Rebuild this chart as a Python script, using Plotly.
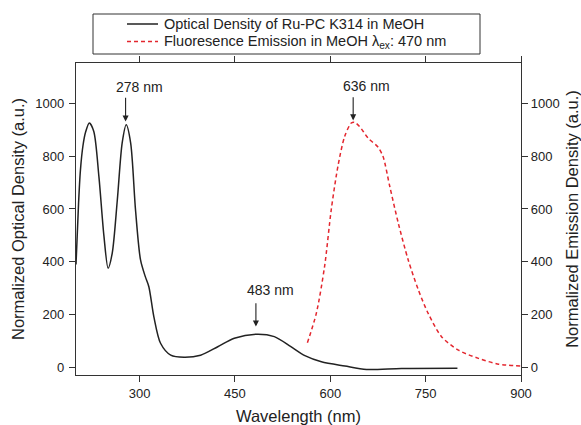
import plotly.graph_objects as go

# Absorption spectrum (optical density), wavelength in nm
abs_wavelength = [200, 204, 207, 211, 215, 221, 228, 236, 244, 250.5, 257, 265, 272.6, 279,
                  286, 293.6, 301.5, 309, 314.6, 322.5, 333, 349, 370, 396, 423, 449, 483,
                  512, 538, 560, 586, 623, 657, 712, 800]
abs_density = [390, 620, 748, 840, 890, 925, 893, 723, 496, 376, 433, 634, 849, 918,
               849, 597, 407, 344, 306, 192, 92, 47, 39, 47, 79, 111, 126,
               117, 79, 45, 22, 6, -7, -3, -2]

# Fluorescence emission spectrum (excitation 470 nm)
em_wavelength = [564, 578, 591, 601.5, 612, 622.6, 633, 638, 646, 659.5, 675, 683, 693.6,
                 707, 722.6, 738.5, 754, 775, 801.6, 833, 865, 899]
em_density = [94, 205, 382, 597, 761, 874, 925, 928, 912, 868, 834, 798, 685,
              546, 407, 294, 205, 117, 66, 35, 13, 6]

# Peak labels: arrow head / tail values and label positions
peak_labels = ["278 nm", "483 nm", "636 nm"]
peak_x = [278, 483, 636]
peak_head = [931, 155, 935]
peak_tail = [1026, 249, 1028]
label_x = [300, 506, 657]
label_y = [1063, 294, 1066]

series_names = ["Optical Density of Ru-PC K314 in MeOH",
                "Fluoresence Emission in MeOH λ<sub>ex</sub>: 470 nm"]

x_ticks = [300, 450, 600, 750, 900]
y_ticks = [0, 200, 400, 600, 800, 1000]

x_range = [200, 900]
y_range = [-28, 1152]

FONT = "Liberation Sans, Arial, sans-serif"
INK = "#222222"
AXIS = "#333333"
RED = "#e3262e"
LINE_W = 1.5
RED_DASH = "4px,3px"

fig = go.Figure()

fig.add_trace(go.Scatter(
    x=abs_wavelength, y=abs_density, mode="lines", name=series_names[0],
    line=dict(color=INK, width=LINE_W, shape="spline", smoothing=0.8),
))
fig.add_trace(go.Scatter(
    x=em_wavelength, y=em_density, mode="lines", yaxis="y2", name=series_names[1],
    line=dict(color=RED, width=LINE_W, dash=RED_DASH, shape="spline", smoothing=0.8),
))

for txt, px, hd, tl, lx, ly in zip(peak_labels, peak_x, peak_head, peak_tail, label_x, label_y):
    fig.add_annotation(
        x=px, y=hd, ax=px, ay=tl, xref="x", yref="y", axref="x", ayref="y",
        text="", showarrow=True, arrowhead=2, arrowsize=1.1, arrowwidth=1.1,
        arrowcolor=INK,
    )
    fig.add_annotation(
        x=lx, y=ly, xref="x", yref="y", text=txt, showarrow=False,
        font=dict(family=FONT, size=14, color=INK),
    )

# Plot frame in pixels
W, H = 581, 425
plot_l, plot_r, plot_t, plot_b = 76, 521, 63, 375
pw, ph = plot_r - plot_l, plot_b - plot_t


def px_to_paper_x(v):
    return (v - plot_l) / pw


def px_to_paper_y(v):
    return (plot_b - v) / ph


# Legend box above the plot, drawn with shapes and text
fig.add_shape(
    type="rect", xref="paper", yref="paper",
    x0=px_to_paper_x(93), x1=px_to_paper_x(480),
    y0=px_to_paper_y(54), y1=px_to_paper_y(14),
    line=dict(color=AXIS, width=1),
)
legend_rows = [24, 41.5]
legend_styles = [dict(color=INK, width=LINE_W), dict(color=RED, width=LINE_W, dash=RED_DASH)]
for name, row, style in zip(series_names, legend_rows, legend_styles):
    fig.add_shape(
        type="line", xref="paper", yref="paper",
        x0=px_to_paper_x(127), x1=px_to_paper_x(158),
        y0=px_to_paper_y(row), y1=px_to_paper_y(row),
        line=style,
    )
    fig.add_annotation(
        x=px_to_paper_x(162), y=px_to_paper_y(row), xref="paper", yref="paper",
        xanchor="left", yanchor="middle", text=name, showarrow=False,
        font=dict(family=FONT, size=14.5, color=INK),
    )

axis_common = dict(
    showline=True, linecolor=AXIS, linewidth=1.3,
    ticks="outside", ticklen=6, tickwidth=1.2, tickcolor=AXIS,
    showgrid=False, zeroline=False, automargin=False,
    tickfont=dict(family=FONT, size=13, color=INK),
)
title_font = dict(family=FONT, size=16.5, color=INK)

fig.update_layout(
    width=W, height=H,
    margin=dict(l=plot_l, r=W - plot_r, t=plot_t, b=H - plot_b),
    paper_bgcolor="white", plot_bgcolor="white",
    font=dict(family=FONT, color=INK),
    showlegend=False,
    xaxis=dict(
        range=x_range, tickvals=x_ticks, mirror="ticks",
        title=dict(text="Wavelength (nm)", font=title_font, standoff=12),
        **axis_common,
    ),
    yaxis=dict(
        range=y_range, tickvals=y_ticks, ticklabelstandoff=2,
        title=dict(text="Normalized Optical Density (a.u.)", font=title_font, standoff=6),
        **axis_common,
    ),
    yaxis2=dict(
        range=y_range, tickvals=y_ticks, overlaying="y", side="right",
        title=dict(text="Normalized Emission Density (a.u.)", font=title_font, standoff=8),
        **axis_common,
    ),
)

fig.write_html("out.html")
